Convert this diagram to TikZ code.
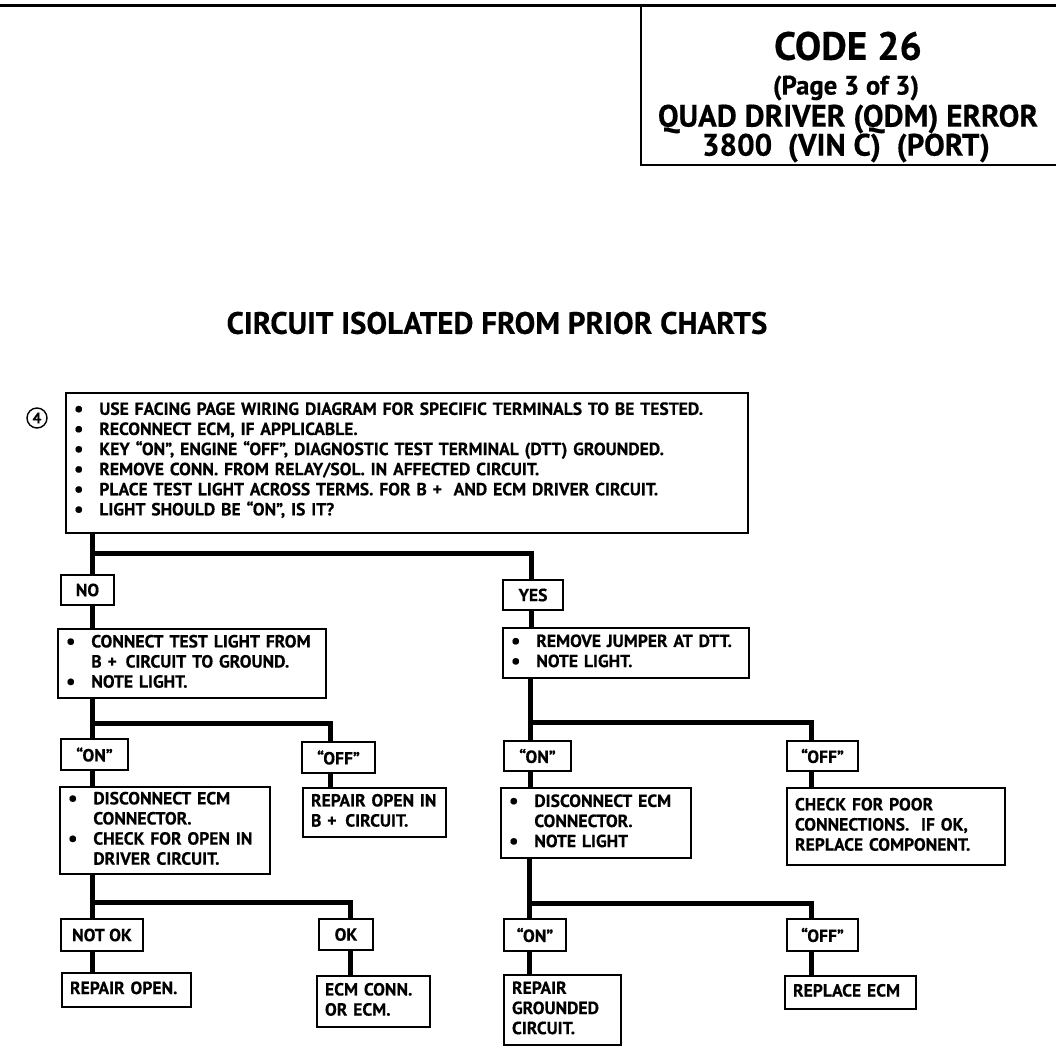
\documentclass[tikz,border=0pt]{standalone}
\usepackage{fontspec}
\setmainfont{PT Sans}
\newfontfamily\chart{PT Sans}[Ligatures=TeX,FakeBold=0.4]
\usepackage{tikz}
\usetikzlibrary{positioning}

\newcommand{\bul}{\makebox[18pt][l]{\raisebox{-0.6pt}{\fontsize{15}{13}\selectfont\textbullet}}}
\newcommand{\ind}{\hspace*{18pt}}
\newcommand{\lines}[1]{\renewcommand{\arraystretch}{1.1}\begin{tabular}{@{}l@{}}#1\end{tabular}}

\begin{document}
\begin{tikzpicture}[
  x=0.25mm, y=-0.25mm,
  box/.style={draw,line width=0.5mm,anchor=north west,align=left,
              inner xsep=2mm,inner ysep=0pt,
              font=\chart\bfseries\fontsize{12.5}{13}\selectfont},
  tag/.style={draw,line width=0.5mm,anchor=north west,align=center,
              inner sep=0pt,font=\chart\bfseries\fontsize{12.5}{13}\selectfont},
  ttl/.style={inner sep=0pt,font=\chart\bfseries},
  wire/.style={line width=1.25mm}
]
\useasboundingbox (0,0) rectangle (1056,1056);

% header
\draw[line width=0.75mm] (0,5) -- (1056,5);
\draw[line width=0.5mm] (641,5) -- (641,165) -- (1056,165);
\node[ttl,font=\chart\bfseries\fontsize{28}{28}\selectfont] (code) at (848,46) {CODE 26};
\node[ttl,font=\chart\bfseries\fontsize{19}{19}\selectfont] (page) at (846,88) {(Page 3 of 3)};
\node[ttl,font=\chart\bfseries\fontsize{22}{22}\selectfont] (qdm) at (848,119) {QUAD DRIVER (QDM) ERROR};
\node[ttl,font=\chart\bfseries\fontsize{22}{22}\selectfont] (vin) at (846,148) {3800 \ (VIN C) \ (PORT)};
\node[ttl,font=\chart\bfseries\fontsize{22}{22}\selectfont] (head) at (497,323) {CIRCUIT ISOLATED FROM PRIOR CHARTS};

% step 4
\node[draw,circle,line width=0.35mm,minimum size=5mm,inner sep=0pt,
      font=\chart\bfseries\fontsize{11}{11}\selectfont] (step4) at (37,418) {4};
\node[box,text width=166.5mm,minimum height=35mm] (main) at (65,392)
  {\lines{\bul USE FACING PAGE WIRING DIAGRAM FOR SPECIFIC TERMINALS TO BE TESTED.\\
   \bul RECONNECT ECM, IF APPLICABLE.\\
   \bul KEY ``ON'', ENGINE ``OFF'', DIAGNOSTIC TEST TERMINAL (DTT) GROUNDED.\\
   \bul REMOVE CONN. FROM RELAY/SOL. IN AFFECTED CIRCUIT.\\
   \bul PLACE TEST LIGHT ACROSS TERMS. FOR B + \ AND ECM DRIVER CIRCUIT.\\
   \bul LIGHT SHOULD BE ``ON'', IS IT?\rule[-7pt]{0pt}{0pt}}};

% first answer
\node[tag,minimum width=13.25mm,minimum height=7.5mm] (no) at (60,574) {NO};
\node[tag,minimum width=15mm,minimum height=7.5mm] (yes) at (502,579) {YES};
\node[box,text width=63mm,minimum height=17.25mm] (chkB) at (57,628)
  {\lines{\bul CONNECT TEST LIGHT FROM\\
   \ind B + \,CIRCUIT TO GROUND.\\
   \bul NOTE LIGHT.}};
\node[box,text width=57.5mm,minimum height=12.5mm] (remj) at (502,627)
  {\lines{\bul REMOVE JUMPER AT DTT.\\
   \bul NOTE LIGHT.}};

% second answer, left
\node[tag,minimum width=16.75mm,minimum height=7.75mm] (lon) at (60,738) {``ON''};
\node[tag,minimum width=18.25mm,minimum height=7.75mm] (loff) at (301,741) {``OFF''};
\node[box,text width=48.5mm,minimum height=21.75mm] (discL) at (59,786)
  {\lines{\bul DISCONNECT ECM\\
   \ind CONNECTOR.\\
   \bul CHECK FOR OPEN IN\\
   \ind DRIVER CIRCUIT.}};
\node[box,text width=31.75mm,minimum height=12.25mm] (rpB) at (302,787)
  {\lines{REPAIR OPEN IN\\ B + \,CIRCUIT.}};

% second answer, right
\node[tag,minimum width=16.75mm,minimum height=7.5mm] (ron) at (503,740) {``ON''};
\node[tag,minimum width=17.75mm,minimum height=7.5mm] (roff) at (786,740) {``OFF''};
\node[box,text width=43.5mm,minimum height=17.5mm] (discR) at (500,787)
  {\lines{\bul DISCONNECT ECM\\
   \ind CONNECTOR.\\
   \bul NOTE LIGHT}};
\node[box,text width=50.5mm,minimum height=19.25mm] (poor) at (786,787)
  {\lines{CHECK FOR POOR\\ CONNECTIONS. \ IF OK,\\ REPLACE COMPONENT.}};

% third answer, left
\node[tag,minimum width=20.5mm,minimum height=8mm] (notok) at (60,918) {NOT OK};
\node[tag,minimum width=13.5mm,minimum height=7.75mm] (ok) at (318,918) {OK};
\node[box,text width=28.25mm,minimum height=8.5mm] (rpopen) at (61,972) {\lines{REPAIR OPEN.}};
\node[box,text width=24.25mm,minimum height=12.75mm] (ecm) at (316,975) {\lines{ECM CONN.\\ OR ECM.}};

% third answer, right
\node[tag,minimum width=15.5mm,minimum height=8mm] (gon) at (503,918) {``ON''};
\node[tag,minimum width=17.75mm,minimum height=8mm] (goff) at (786,918) {``OFF''};
\node[box,text width=25.25mm,minimum height=17.5mm] (rpgnd) at (503,974) {\lines{REPAIR\\ GROUNDED\\ CIRCUIT.}};
\node[box,text width=28.75mm,minimum height=8.25mm] (repl) at (784,975) {\lines{REPLACE ECM}};

% branch points
\coordinate (j1) at (92,553);
\coordinate (j1r) at (531,553);
\coordinate (j2) at (92,723);
\coordinate (j2r) at (330,723);
\coordinate (k2) at (530,722);
\coordinate (k2r) at (811,722);
\coordinate (j3) at (92,902);
\coordinate (j3r) at (350,902);
\coordinate (k3) at (529,903);
\coordinate (k3r) at (811,903);

% flow lines
\draw[wire] (main.south -| j1) -- (no.north -| j1);
\draw[wire] (j1) -- (j1r) -- (yes.north -| j1r);
\draw[wire] (no.south -| j1) -- (chkB.north -| j1);
\draw[wire] (yes.south -| j1r) -- (remj.north -| j1r);

\draw[wire] (chkB.south -| j2) -- (lon.north -| j2);
\draw[wire] (j2) -- (j2r) -- (loff.north -| j2r);
\draw[wire] (lon.south -| j2) -- (discL.north -| j2);
\draw[wire] (loff.south -| j2r) -- (rpB.north -| j2r);

\draw[wire] (remj.south -| k2) -- (ron.north -| k2);
\draw[wire] (k2) -- (k2r) -- (roff.north -| k2r);
\draw[wire] (ron.south -| k2) -- (discR.north -| k2);
\draw[wire] (roff.south -| k2r) -- (poor.north -| k2r);

\draw[wire] (discL.south -| j3) -- (notok.north -| j3);
\draw[wire] (j3) -- (j3r) -- (ok.north -| j3r);
\draw[wire] (notok.south -| j3) -- (rpopen.north -| j3);
\draw[wire] (ok.south -| j3r) -- (ecm.north -| j3r);

\draw[wire] (discR.south -| k3) -- (gon.north -| k3);
\draw[wire] (k3) -- (k3r) -- (goff.north -| k3r);
\draw[wire] (gon.south -| k3) -- (rpgnd.north -| k3);
\draw[wire] (goff.south -| k3r) -- (repl.north -| k3r);
\end{tikzpicture}
\end{document}
